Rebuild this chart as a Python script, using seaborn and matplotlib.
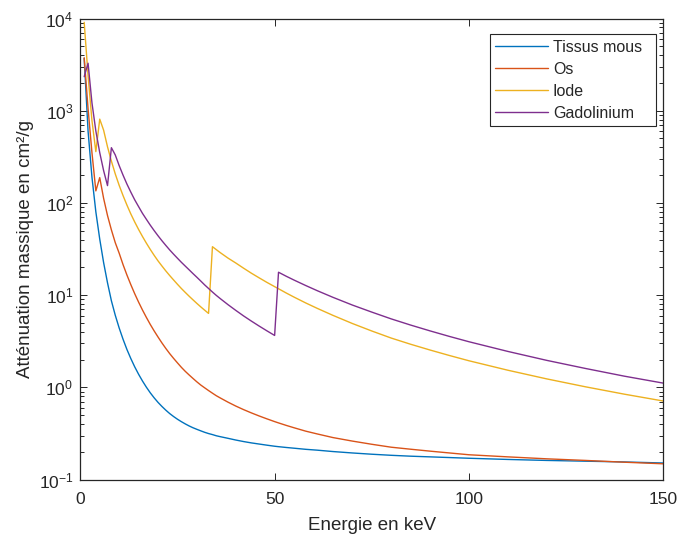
import matplotlib
matplotlib.use("Agg")
import matplotlib.pyplot as plt
import pandas as pd
import seaborn as sns

# Photon energies (keV) at which the mass attenuation coefficients are given
energy = [1, 2, 3, 4, 5, 6, 7, 8, 9, 10, 11, 12, 13, 14, 15, 16, 17, 18, 19, 20,
          21, 22, 23, 24, 25, 26, 27, 28, 29, 30, 31, 32, 33, 34, 35, 36, 38, 40,
          42, 44, 46, 48, 50, 51, 53, 55, 58, 61, 65, 70, 75, 80, 85, 90, 95, 100,
          110, 120, 130, 140, 150]

# Mass attenuation coefficients (cm^2/g)
tissu = [3700, 600, 190, 80, 40.5, 22.5, 13.6, 8.68, 6.04, 4.40, 3.32, 2.57, 2.05,
         1.667, 1.385, 1.17, 1.003, 0.872, 0.769, 0.686, 0.620, 0.565, 0.519,
         0.482, 0.4505, 0.424, 0.401, 0.381, 0.364, 0.350, 0.337, 0.325, 0.315,
         0.307, 0.298, 0.2915, 0.2797, 0.268, 0.258, 0.2495, 0.2425, 0.2357,
         0.2295, 0.227, 0.2225, 0.2185, 0.2125, 0.208, 0.201, 0.194, 0.188, 0.183,
         0.179, 0.176, 0.173, 0.170, 0.165, 0.161, 0.158, 0.155, 0.151]
os_ = [3750, 1050, 350, 135, 188, 112, 73, 51, 37, 28.5, 21.4, 16.5, 12.98, 10.35,
       8.39, 6.89, 5.73, 4.81, 4.09, 3.51, 3.03, 2.64, 2.32, 2.06, 1.84, 1.648,
       1.491, 1.361, 1.247, 1.145, 1.058, 0.987, 0.922, 0.8635, 0.810, 0.767,
       0.690, 0.626, 0.573, 0.528, 0.489, 0.455, 0.4246, 0.411, 0.386, 0.364,
       0.3345, 0.3117, 0.285, 0.261, 0.241, 0.224, 0.213, 0.203, 0.194, 0.1855,
       0.176, 0.1676, 0.161, 0.154, 0.148]
iode = [9100, 2400, 780, 360, 810, 615, 406, 284, 206, 155, 120, 94.7, 75.9, 62.1,
        51.5, 43.2, 36.6, 31.3, 27.0, 23.5, 20.7, 18.3, 16.3, 14.6, 13.1, 11.8,
        10.7, 9.73, 8.88, 8.12, 7.45, 6.86, 6.33, 33.5, 31.1, 28.9, 25.2, 22.3,
        19.6, 17.3, 15.4, 13.75, 12.35, 11.72, 10.53, 9.51, 8.22, 7.17, 6.03,
        4.92, 4.08, 3.42, 2.93, 2.536, 2.211, 1.94, 1.532, 1.234, 1.012, 0.842,
        0.71]
gadolinium = [2340, 3270, 1216, 603, 351, 224, 154, 397, 331, 254, 200, 160, 130.8,
              108, 91.1, 77, 66.4, 57.4, 50.1, 44, 38.9, 34.6, 30.9, 27.8, 25.1,
              22.7, 20.65, 18.8, 17.1, 15.6, 14.2, 12.9, 11.8, 10.8, 9.92, 9.17,
              7.88, 6.83, 5.95, 5.23, 4.62, 4.10, 3.65, 17.7, 16.0, 14.55, 12.7,
              11.15, 9.46, 7.8, 6.54, 5.52, 4.73, 4.09, 3.56, 3.12, 2.45, 1.96,
              1.60, 1.32, 1.11]

materials = ["Tissus mous", "Os", "Iode", "Gadolinium"]
colors = ["#0072BD", "#D95319", "#EDB120", "#7E2F8E"]

df = pd.concat([
    pd.DataFrame({"E": energy, "mu": vals, "mat": name})
    for name, vals in zip(materials, [tissu, os_, iode, gadolinium])
], ignore_index=True)

sns.set_style("ticks")
plt.rcParams["font.family"] = ["Liberation Sans", "DejaVu Sans"]
plt.rcParams["mathtext.fontset"] = "custom"
plt.rcParams["mathtext.rm"] = "Liberation Sans"
plt.rcParams["mathtext.it"] = "Liberation Sans:italic"
plt.rcParams["mathtext.bf"] = "Liberation Sans:bold"

dark = "#262626"

fig = plt.figure(figsize=(6.79, 5.36), dpi=100)
fig.patch.set_facecolor("white")
ax = fig.add_axes([0.11826, 0.10541, 0.8586, 0.86007])

sns.lineplot(data=df, x="E", y="mu", hue="mat", hue_order=materials,
             palette=colors, estimator=None, sort=False, linewidth=1.0,
             legend=False, ax=ax)

ax.set_yscale("log")
ax.set_xlim(0, 150)
ax.set_ylim(1e-1, 1e4)
ax.set_xticks([0, 50, 100, 150])
ax.set_xlabel("Energie en keV", fontsize=13.5, color=dark, labelpad=7)
ax.set_ylabel("Atténuation massique en cm²/g", fontsize=13.5, color=dark, labelpad=3)

for s in ax.spines.values():
    s.set_visible(True)
    s.set_color(dark)
    s.set_linewidth(0.9)

ax.tick_params(which="both", direction="in", top=True, right=True,
               colors=dark, labelcolor=dark, labelsize=12.5, width=0.7)
ax.tick_params(which="major", length=5)
ax.tick_params(which="minor", length=3)
ax.tick_params(axis="x", which="major", pad=9)
ax.tick_params(axis="y", which="major", pad=5)
ax.tick_params(axis="x", which="minor", bottom=False, top=False)

# the en space widens the box on the right like the original legend layout
leg_labels = ["Tissus mous\u2002", "Os", "Iode", "Gadolinium"]
leg = ax.legend(handles=ax.lines[:4], labels=leg_labels, loc="upper right",
                bbox_to_anchor=(0.987, 0.9657), frameon=True, fancybox=False,
                framealpha=1, edgecolor=dark, fontsize=11.5, handlelength=3.3,
                handletextpad=0.3, labelspacing=0.43, borderpad=0.35,
                borderaxespad=0)
leg.get_frame().set_linewidth(0.8)
for t in leg.get_texts():
    t.set_color(dark)

fig.savefig("out.png", dpi=100, facecolor="white")
